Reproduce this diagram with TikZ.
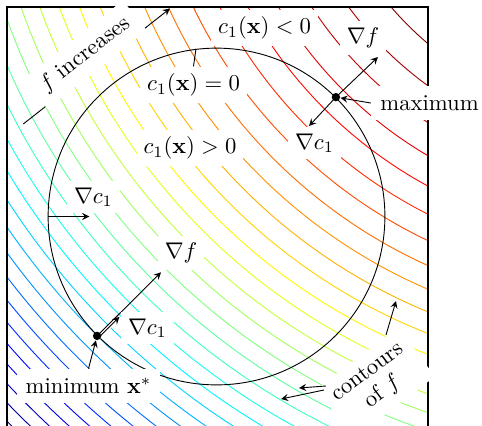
\documentclass[tikz,border=0pt]{standalone}
\usepackage{amsmath, amssymb}
\usepackage{tikz}

\begin{document}
\begin{tikzpicture}[
    >=stealth,
    lbl/.style={fill=white, inner sep=3pt},
    dot/.style={circle, fill=black, inner sep=0pt, minimum size=1.3mm}
]
    \useasboundingbox (-3.356,-3.247) rectangle (4.115,3.356);
    \coordinate (fc) at (6.58,6.58);

    \begin{scope}
        \clip (-3.25,-3.3) rectangle (3.28,3.25);
        \foreach \m in {-4,...,26}{
            \pgfmathsetmacro{\tval}{(26-\m)/30}
            \pgfmathsetmacro{\cR}{max(0,min(1,1.5-abs(4*\tval-3)))}
            \pgfmathsetmacro{\cG}{max(0,min(1,1.5-abs(4*\tval-2)))}
            \pgfmathsetmacro{\cB}{max(0,min(1,1.5-abs(4*\tval-1)))}
            \definecolor{lvl}{rgb}{\cR,\cG,\cB}
            \draw[lvl, thin] (fc) circle ({sqrt(48.2+5.52*\m)});
        }
    \end{scope}
    \draw[line width=0.9pt] (-3.25,-3.3) -- (-3.25,3.25) -- (3.28,3.25) -- (3.28,-3.3);

    \node[circle, draw, thin, inner sep=0pt, minimum size=5.22cm] (cnst) at (0,0) {};
    \coordinate (xmax) at (cnst.45);
    \coordinate (xmin) at (cnst.225);

    \coordinate (gfmax) at (2.503,2.472);
    \coordinate (gcmax) at (1.434,1.403);
    \coordinate (gfmin) at (-0.860,-0.865);
    \coordinate (gcmin) at (-1.53,-1.53);
    \coordinate (gcleft) at (-1.972,0);
    \coordinate (incA) at (-2.995,1.434);
    \coordinate (incB) at (-0.721,3.224);

    \draw[->] (xmax) -- (gfmax);
    \draw[->] (xmax) -- (gcmax);
    \draw[->] (cnst.west) -- (gcleft);
    \draw[->, preaction={draw=white, line width=1.6pt}] ([shift={(0.025,-0.025)}]xmin) -- ([shift={(0.025,-0.025)}]gcmin);
    \draw[->] (xmin) -- (gfmin);

    \node[dot] (maxdot) at (xmax) {};
    \node[dot] (mindot) at (xmin) {};

    \draw[->] (incA) -- node[lbl, sloped, inner sep=4pt, above=-1.5pt, pos=0.49] {$f$ increases} (incB);

    \node[lbl] (ltlbl) at (0.745,2.922) {$c_1(\mathbf{x}) < 0$};
    \node[lbl] (zerolbl) at (-0.357,2.038) {$c_1(\mathbf{x}) = 0$};
    \node[lbl] (gtlbl) at (-0.411,1.062) {$c_1(\mathbf{x}) > 0$};
    \node[lbl] (gcleftlbl) at (-1.907,0.302) {$\nabla c_1$};
    \node[lbl] (gfminlbl) at (-0.550,-0.566) {$\nabla f$};
    \node[lbl] (gcminlbl) at (-1.070,-1.728) {$\nabla c_1$};
    \node[lbl] (gfmaxlbl) at (2.271,2.767) {$\nabla f$};
    \node[lbl] (gcmaxlbl) at (1.519,1.139) {$\nabla c_1$};
    \node[lbl, inner sep=4pt] (maxlbl) at (3.302,1.759) {maximum};
    \node[lbl, inner sep=4pt] (minlbl) at (-1.984,-2.627) {minimum $\mathbf{x}^*$};
    \node[lbl, inner sep=4pt, rotate=37, align=center] (cntlbl) at (2.468,-2.576) {contours\\[-1pt]of $f$};

    \draw (zerolbl.north) -- (cnst.97);
    \draw[->] (maxlbl.west) -- (maxdot);
    \draw[->] (minlbl.north) -- (mindot);

    \coordinate (ct1) at (2.627,-1.837);
    \coordinate (ch1) at (2.782,-1.310);
    \coordinate (ct2) at (1.697,-2.627);
    \coordinate (ch2) at (1.279,-2.658);
    \coordinate (ct3) at (1.666,-2.689);
    \coordinate (ch3) at (1.000,-2.829);
    \draw[->] (ct1) -- (ch1);
    \draw[->] (ct2) -- (ch2);
    \draw[->] (ct3) -- (ch3);
\end{tikzpicture}
\end{document}
